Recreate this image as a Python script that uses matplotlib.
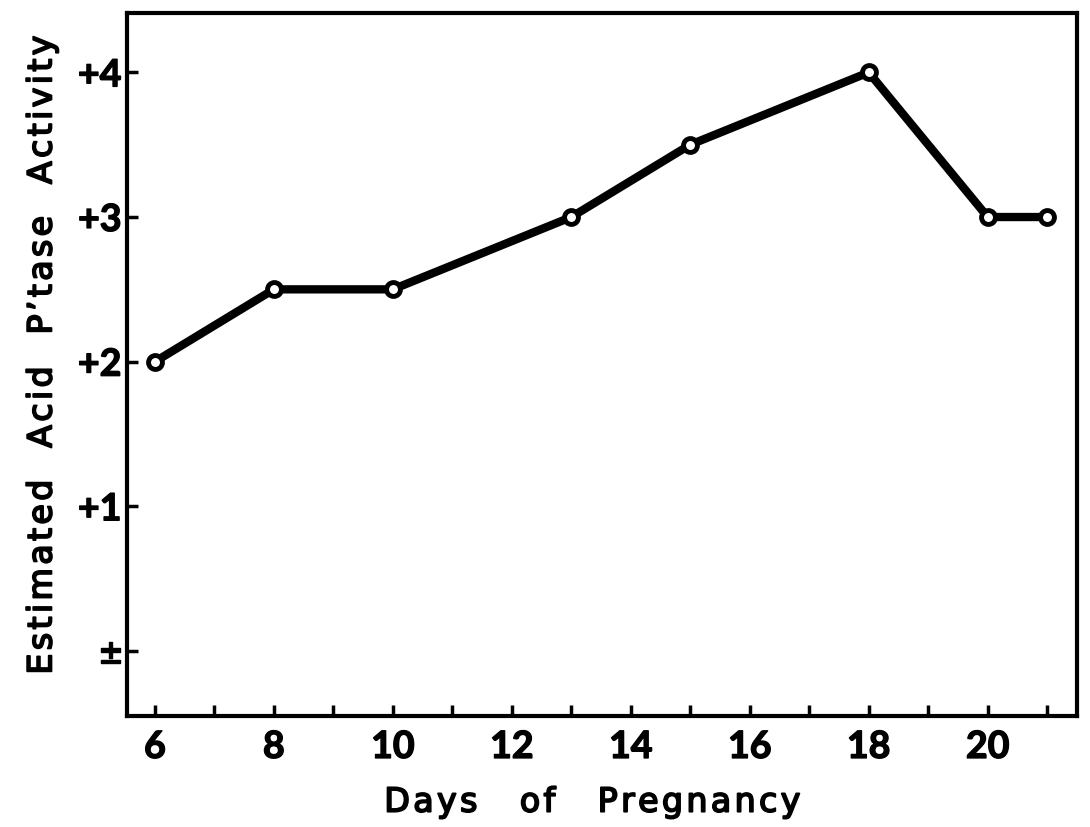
import matplotlib
matplotlib.use("Agg")
import matplotlib.pyplot as plt
import matplotlib.patheffects as pe

days = [6, 8, 10, 13, 15, 18, 20, 21]
activity = [2.0, 2.5, 2.5, 3.0, 3.5, 4.0, 3.0, 3.0]
xtick_vals = [6, 8, 10, 12, 14, 16, 18, 20]
ytick_vals = [0, 1, 2, 3, 4]
ytick_labels = ["±", "+1", "+2", "+3", "+4"]
xlabel_words = ["Days", "of", "Pregnancy"]
ylabel_words = ["Estimated", "Acid", "P\u2019tase", "Activity"]

plt.rcParams['font.family'] = ['Lato', 'DejaVu Sans']


def tracked(words, gap):
    return gap.join("\u200a".join(w) for w in words)


fig = plt.figure(figsize=(10.9, 8.28), dpi=100)
ax = fig.add_axes([0.1165, 0.134, 0.8715, 0.849])

ax.plot(days, activity, color='black', lw=6, marker='o', markersize=10,
        markerfacecolor='white', markeredgecolor='black', markeredgewidth=3.5,
        solid_capstyle='round', solid_joinstyle='round')

ax.set_xlim(5.53, 21.5)
ax.set_ylim(-0.45, 4.41)

tick_fx = [pe.withStroke(linewidth=1.0, foreground='black')]
ax.set_xticks(xtick_vals)
ax.set_xticks(list(range(6, 22)), minor=True)
ax.set_xticklabels([str(v) for v in xtick_vals], fontsize=27, fontweight='bold')
ax.set_yticks(ytick_vals)
ax.set_yticklabels(ytick_labels, fontsize=27, fontweight='bold')
for t in ax.get_xticklabels() + ax.get_yticklabels():
    t.set_path_effects(tick_fx)

ax.tick_params(axis='x', which='both', direction='in', length=8, width=2.5, pad=10,
               top=False)
ax.tick_params(axis='y', which='both', direction='in', length=8, width=2.5, pad=4,
               right=False)

for s in ax.spines.values():
    s.set_linewidth(3)

label_font = ['DejaVu Sans']
thick = [pe.withStroke(linewidth=1.3, foreground='black')]
fig.text(0.544, 0.03, tracked(xlabel_words, "    "), ha='center', va='center',
         fontsize=24, family=label_font, path_effects=thick)
fig.text(0.0385, 0.571, tracked(ylabel_words, "   "), ha='center', va='center',
         rotation=90, fontsize=24, family=label_font, path_effects=thick)

fig.savefig("out.png", dpi=100)
